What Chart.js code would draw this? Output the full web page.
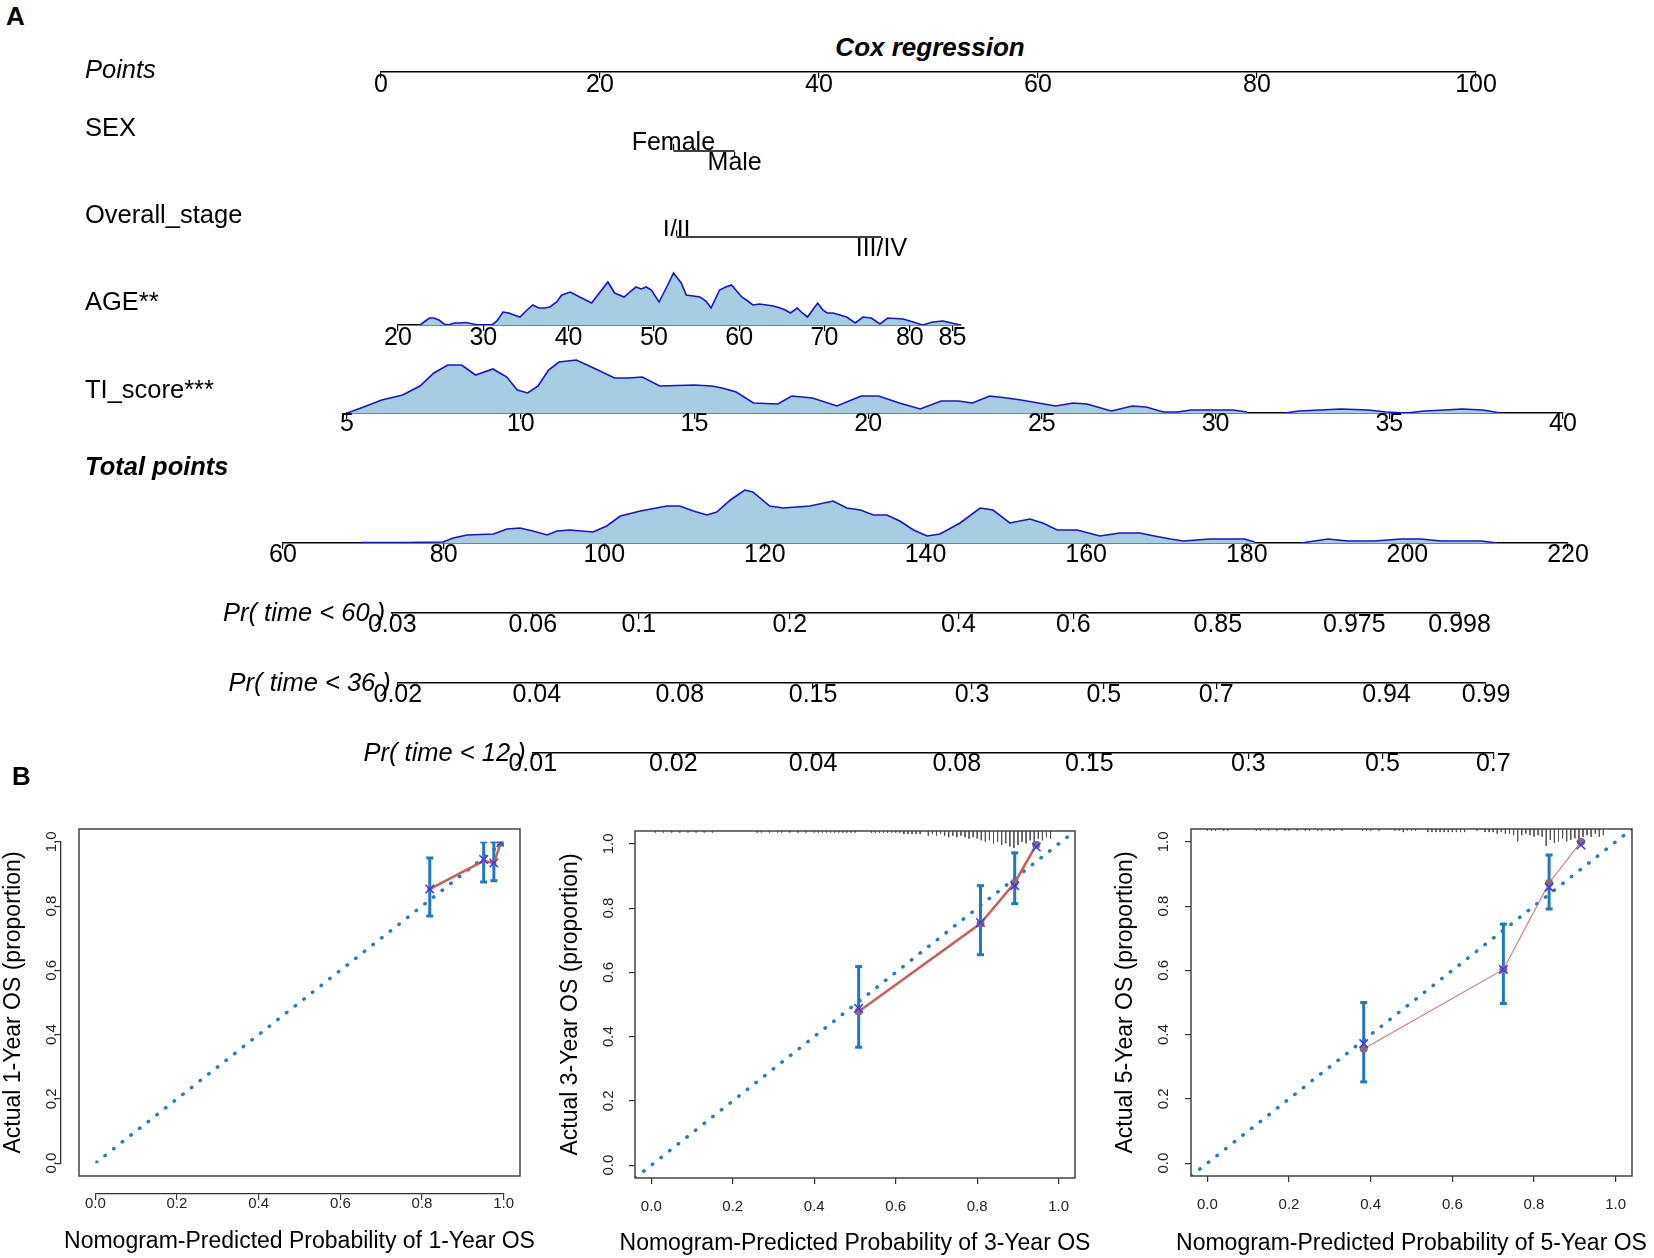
<!DOCTYPE html>
<html>
<head>
<meta charset="utf-8">
<title>Nomogram and calibration curves</title>
<script src="https://cdn.jsdelivr.net/npm/chart.js@4.4.1/dist/chart.umd.min.js"></script>
<style>
  html, body { margin: 0; padding: 0; background: #fff; }
  #page { position: relative; width: 1654px; height: 1258px; overflow: hidden;
          font-family: "Liberation Sans", Arial, sans-serif; color: #000; }
  #page canvas { position: absolute; }
  .lbl { position: absolute; white-space: nowrap; line-height: 1; font-size: 25.5px;
         transform: translateY(-50%); }
</style>
</head>
<body>
<div id="page"></div>
<script>
// ---------- nomogram data ----------
const pointsTicks = [0, 20, 40, 60, 80, 100];
const sexLevels = ['Female', 'Male'];
const sexPoints = [26.7, 32.3];
const stageLevels = ['I/II', 'III/IV'];
const stagePoints = [27.0, 45.7];

const ageTicks = [20, 30, 40, 50, 60, 70, 80, 85];
const ageX = [22.6, 23.2, 23.7, 24.2, 24.8, 25.4, 25.9, 26.6, 27.2, 28.0,
              28.8, 29.4, 31.0, 31.6, 32.3, 33.0, 33.6, 34.3, 35.0, 35.8,
              36.5, 37.2, 37.8, 38.6, 39.2, 40.2, 41.3, 42.7, 43.6, 44.6,
              45.4, 46.5, 47.3, 47.9, 48.5, 49.1, 49.7, 50.6, 51.5, 52.3,
              53.2, 53.8, 54.6, 55.4, 56.1, 56.7, 57.7, 58.4, 59.1, 59.8,
              60.3, 61.0, 61.6, 62.4, 63.2, 64.0, 64.8, 65.4, 66.0, 66.8,
              67.4, 68.0, 68.6, 69.2, 69.8, 70.3, 71.0, 71.8, 72.6, 73.6,
              74.5, 75.5, 76.5, 77.4, 78.3, 79.2, 80.4, 81.5, 82.7, 83.9,
              84.9, 85.9];
const ageDensity = [0, 4, 7, 7, 5, 1, 0, 2, 2, 2.5,
                    1, 0, 0, 4, 13, 12, 10, 8, 14, 20,
                    17, 17, 18, 23, 30, 33, 28, 22, 32, 43,
                    32, 28, 34, 38, 36, 38, 35, 23, 38, 52,
                    42, 30, 29, 28, 24, 17, 35, 38, 40, 33,
                    28, 24, 20, 21, 20, 19, 17, 15, 12, 17,
                    12, 8, 15, 22, 15, 12, 12, 10, 8, 2,
                    8, 7, 1, 7, 6.5, 6, 3, 0, 3, 4,
                    2, 0];

const tiTicks = [5, 10, 15, 20, 25, 30, 35, 40];
const tiX = [5.0, 5.4, 6.0, 6.6, 7.1, 7.5, 7.9, 8.3, 8.7, 9.2,
             9.6, 9.9, 10.2, 10.5, 10.8, 11.1, 11.6, 12.1, 12.7, 13.1,
             13.5, 14.0, 14.5, 15.0, 15.5, 15.8, 16.2, 16.7, 17.4, 17.8,
             18.4, 19.1, 19.8, 20.3, 20.9, 21.5, 22.1, 22.6, 23.0, 23.5,
             24.0, 24.4, 24.9, 25.4, 25.9, 26.3, 27.0, 27.6, 28.0, 28.5,
             28.9, 29.3, 29.8, 30.5, 30.9, 31.5, 32.0, 32.4, 33.0, 33.6,
             34.4, 34.9, 35.5, 36.0, 36.6, 37.1, 37.7, 38.2];
const tiDensity = [0, 5, 13, 18, 27, 40, 48, 48, 38, 44,
                   36, 23, 20, 27, 43, 51, 53, 45, 35, 35,
                   36, 27, 27.5, 28, 27, 25, 21, 10, 9, 17,
                   15, 7, 17, 17, 10, 4, 12, 12, 10, 17,
                   15, 13, 10, 7, 10, 9, 2, 7, 6, 1,
                   1, 3, 3, 3, 1, null, 0, 2, 3, 4,
                   3, 1, 0, 2, 3, 4, 3, 0];

const totalTicks = [60, 80, 100, 120, 140, 160, 180, 200, 220];
const totalX = [69.8, 75.0, 79.9, 81.2, 82.9, 86.2, 87.9, 89.5, 91.1, 92.9,
                94.1, 95.7, 98.6, 100.3, 102.0, 104.5, 107.8, 109.4, 111.1, 112.8,
                114.0, 115.7, 117.5, 118.5, 120.6, 122.3, 125.6, 128.5, 130.2, 131.9,
                133.5, 135.2, 136.8, 138.5, 140.2, 141.8, 144.3, 146.8, 148.4, 150.5,
                153.0, 154.6, 156.4, 158.9, 161.7, 164.2, 166.7, 168.5, 170.5, 172.1,
                175.4, 177.5, 179.7, 181.0, 184.0, 186.8, 187.6, 190.1, 192.6, 195.9,
                199.2, 201.7, 204.2, 206.2, 209.2, 211.2];
const totalDensity = [0.5, 0.5, 1, 5, 8, 9, 14, 15, 12, 8,
                      12, 13, 11, 17, 27, 32, 37, 37, 32, 28,
                      31, 43, 53, 51, 37, 35, 37, 42, 35, 33,
                      28, 28, 22, 13, 7, 9, 20, 35, 33, 20,
                      24, 20, 13, 13, 7, 10, 10, 7, 4, 2,
                      4, 4, 4, 1, null, 0, 1, 4, 2, 2,
                      4, 4, 2, 2, 2, 0];

// probability scales: label and the total points where it sits
const pr60Labels = ['0.03', '0.06', '0.1', '0.2', '0.4', '0.6', '0.85', '0.975', '0.998'];
const pr60Points = [73.6, 91.1, 104.3, 123.1, 144.1, 158.4, 176.4, 193.4, 206.5];
const pr36Labels = ['0.02', '0.04', '0.08', '0.15', '0.3', '0.5', '0.7', '0.94', '0.99'];
const pr36Points = [74.3, 91.6, 109.4, 126.0, 145.8, 162.2, 176.2, 197.4, 209.8];
const pr12Labels = ['0.01', '0.02', '0.04', '0.08', '0.15', '0.3', '0.5', '0.7'];
const pr12Points = [91.1, 108.6, 126.0, 143.9, 160.4, 180.2, 196.9, 210.7];

// ---------- calibration data ----------
const calTicks = [0, 0.2, 0.4, 0.6, 0.8, 1.0];
const pred1 = [0.819, 0.951, 0.976, 0.993];
const obs1 = [0.853, 0.941, 0.934, 0.997];
const lo1 = [0.769, 0.875, 0.879, 0.990];
const hi1 = [0.950, 1.000, 1.000, 1.000];
const km1 = [0.853, 0.945, 0.934, 0.997];
const rug1X = [0.327, 0.379, 0.441, 0.458, 0.494, 0.546, 0.591, 0.599, 0.722, 0.758,
               0.784, 0.810, 0.828, 0.860, 0.870, 0.880, 0.885, 0.890, 0.900, 0.905,
               0.910, 0.915, 0.920, 0.925, 0.930, 0.935, 0.940, 0.945, 0.950, 0.955,
               0.960, 0.965, 0.970, 0.975, 0.980, 0.985];
const rug1N = [1, 1, 1, 1, 1, 1, 2, 1, 1, 1,
               1, 1, 1, 2, 2, 2, 2, 2, 2, 3,
               2, 3, 3, 3, 4, 3, 4, 5, 4, 6,
               5, 7, 8, 9, 8, 9];

const pred2 = [0.509, 0.808, 0.892, 0.945];
const obs2 = [0.478, 0.752, 0.879, 0.997];
const lo2 = [0.367, 0.655, 0.814, 0.997];
const hi2 = [0.618, 0.870, 0.972, 0.997];
const km2 = [0.488, 0.755, 0.870, 0.990];
const rug2X = [0.01, 0.03, 0.05, 0.07, 0.09, 0.11, 0.13, 0.15,
               0.26, 0.27, 0.29, 0.31, 0.32, 0.34, 0.36, 0.38,
               0.40, 0.41, 0.42, 0.43, 0.44, 0.45, 0.46, 0.47, 0.48, 0.49, 0.50,
               0.54, 0.55, 0.56, 0.57, 0.58, 0.59, 0.60, 0.61,
               0.62, 0.63, 0.64, 0.65, 0.66, 0.68, 0.69, 0.70, 0.71, 0.72,
               0.73, 0.74, 0.75, 0.76, 0.77, 0.78, 0.79, 0.80,
               0.81, 0.82, 0.83, 0.84, 0.85, 0.86, 0.87, 0.88, 0.89, 0.90,
               0.91, 0.92, 0.93, 0.94, 0.95, 0.96, 0.97, 0.98];
const rug2N = [1, 1, 1, 1, 1, 1, 1, 1,
               1, 1, 1, 1, 1, 1, 1, 1,
               1, 1, 1, 1, 1, 1, 1, 1, 1, 1, 1,
               1, 1, 1, 1, 1, 1, 1, 1,
               2, 2, 2, 2, 2, 3, 2, 3, 2, 3,
               4, 3, 4, 3, 4, 5, 4, 5,
               6, 7, 6, 8, 7, 9, 8, 10, 11, 9,
               7, 8, 6, 7, 5, 6, 4, 5];

const pred3 = [0.383, 0.725, 0.837, 0.915];
const obs3 = [0.356, 0.603, 0.872, 1.000];
const lo3 = [0.253, 0.497, 0.791, 1.000];
const hi3 = [0.500, 0.744, 0.959, 1.000];
const km3 = [0.372, 0.603, 0.859, 0.990];
const rug3X = [0.00, 0.01, 0.02, 0.04, 0.05, 0.12, 0.13, 0.15,
               0.17, 0.19, 0.20, 0.22, 0.24, 0.25, 0.27, 0.28, 0.30, 0.31, 0.33,
               0.38, 0.39, 0.40, 0.42, 0.46, 0.47, 0.48, 0.49, 0.50, 0.51,
               0.54, 0.55, 0.56, 0.57, 0.58, 0.59, 0.60, 0.61, 0.62, 0.63,
               0.66, 0.68, 0.69, 0.70, 0.71, 0.72, 0.73, 0.74, 0.75, 0.76,
               0.77, 0.78, 0.79, 0.80, 0.81, 0.82, 0.83, 0.84, 0.85,
               0.86, 0.87, 0.88, 0.89, 0.90, 0.91, 0.92, 0.93, 0.94, 0.95, 0.96, 0.97];
const rug3N = [1, 1, 1, 1, 1, 1, 1, 1,
               1, 1, 1, 1, 1, 1, 1, 1, 1, 1, 1,
               1, 1, 1, 1, 1, 1, 2, 1, 1, 1,
               2, 2, 2, 2, 2, 2, 2, 2, 2, 2,
               1, 2, 2, 2, 3, 2, 3, 3, 4, 8,
               4, 3, 4, 5, 4, 5, 11, 7, 9,
               8, 6, 8, 7, 6, 8, 5, 4, 5, 3, 5, 4];

// ---------- layout ----------
const PAGE_W = 1654;
const page = document.getElementById('page');
const PTS_PX = [381, 1476];      // pixel span of the Points axis
const pointsRange = [0, 100];
const TOTAL_PX = [283, 1568];
const totalRange = [60, 220];
const TICK_LEN = 6;
const TICK_PX = 25;
const LINE_H = TICK_PX * 1.2;
const AX_H = 36;
const AX_LIM = [-0.04, 1.04];
const RUG_UNIT = 0.0048;

Chart.defaults.font.family = '"Liberation Sans", Arial, sans-serif';
Chart.defaults.color = '#000';
Chart.defaults.animation = false;
Chart.defaults.responsive = false;
Chart.defaults.events = [];
Chart.defaults.plugins.legend.display = false;
Chart.defaults.plugins.tooltip.enabled = false;

function tpPx(v) {
  return TOTAL_PX[0] + (v - totalRange[0]) * (TOTAL_PX[1] - TOTAL_PX[0]) / (totalRange[1] - totalRange[0]);
}

function makeCanvas(left, top, w, h) {
  const c = document.createElement('canvas');
  c.width = w;
  c.height = h;
  c.style.left = left + 'px';
  c.style.top = top + 'px';
  page.appendChild(c);
  return c.getContext('2d');
}

function label(str, x, y, style, align) {
  const d = document.createElement('div');
  d.className = 'lbl';
  d.textContent = str;
  d.style.top = y + 'px';
  if (align === 'right') {
    d.style.right = (PAGE_W - x) + 'px';
  } else {
    d.style.left = x + 'px';
  }
  if (align === 'center') d.style.transform = 'translate(-50%, -50%)';
  Object.assign(d.style, style || {});
  page.appendChild(d);
}

function densitySet(xs, ys) {
  return {
    data: xs.map((x, i) => ({ x: x, y: ys[i] })),
    borderColor: '#1414d2', borderWidth: 1.6, backgroundColor: '#a6cde2',
    fill: 'origin', pointRadius: 0, tension: 0, spanGaps: false
  };
}

// one nomogram axis; the chart area is pinned to the axis span
function nomoRow(o) {
  const areaH = o.areaH || 2;
  const ctx = makeCanvas(0, o.axisY - areaH, PAGE_W, areaH + AX_H);
  return new Chart(ctx, {
    type: 'line',
    data: { datasets: o.datasets || [] },
    options: {
      layout: { padding: { left: o.px[0], right: PAGE_W - o.px[1], top: 0, bottom: 0 } },
      scales: {
        x: {
          type: 'linear', position: 'bottom', min: o.range[0], max: o.range[1],
          afterFit: s => { s.height = AX_H; },
          afterBuildTicks: s => { s.ticks = o.ticks.map(v => ({ value: v })); },
          ticks: {
            autoSkip: false, minRotation: 0, maxRotation: 0, color: '#000',
            font: { size: TICK_PX }, padding: o.gap - TICK_LEN - LINE_H / 2,
            callback: (v, i) => o.labels[i]
          },
          grid: { drawOnChartArea: false, tickLength: TICK_LEN, color: '#000', lineWidth: 1.2 },
          border: { display: true, color: '#000', width: 1.5 }
        },
        y: { display: false, min: 0, max: areaH }
      }
    }
  });
}

// two-level factor: first level labelled above, second below
function catRow(o) {
  const ctx = makeCanvas(0, o.axisY - AX_H - 1, PAGE_W, AX_H * 2 + 2);
  const side = (pos, idx, gap) => ({
    type: 'linear', position: pos, min: pointsRange[0], max: pointsRange[1],
    afterFit: s => { s.height = AX_H; },
    afterBuildTicks: s => { s.ticks = [{ value: o.points[idx] }]; },
    ticks: {
      autoSkip: false, minRotation: 0, maxRotation: 0, color: '#000',
      font: { size: TICK_PX }, padding: gap - TICK_LEN - LINE_H / 2 - 1,
      callback: () => o.labels[idx]
    },
    grid: { drawOnChartArea: false, tickLength: TICK_LEN, color: '#000', lineWidth: 1.2 },
    border: { display: false }
  });
  return new Chart(ctx, {
    type: 'line',
    data: {
      datasets: [{
        xAxisID: 'x', yAxisID: 'y',
        data: o.points.map(p => ({ x: p, y: 0 })),
        borderColor: '#000', borderWidth: 1.5, pointRadius: 0
      }]
    },
    options: {
      layout: { padding: { left: PTS_PX[0], right: PAGE_W - PTS_PX[1], top: 0, bottom: 0 } },
      scales: {
        xt: side('top', 0, o.gapTop),
        x: side('bottom', 1, o.gapBottom),
        y: { display: false, min: -1, max: 1 }
      }
    }
  });
}

// ---------- part A ----------
nomoRow({ axisY: 72, px: PTS_PX, range: pointsRange, ticks: pointsTicks,
          labels: pointsTicks.map(String), gap: 13 });
catRow({ axisY: 151, points: sexPoints, labels: sexLevels, gapTop: 8, gapBottom: 12 });
catRow({ axisY: 237, points: stagePoints, labels: stageLevels, gapTop: 6, gapBottom: 12 });
nomoRow({ axisY: 325, areaH: 55, px: [398, 961], range: [20, 86], ticks: ageTicks,
          labels: ageTicks.map(String), gap: 13.5, datasets: [densitySet(ageX, ageDensity)] });
nomoRow({ axisY: 413, areaH: 55, px: [347, 1563], range: [5, 40], ticks: tiTicks,
          labels: tiTicks.map(String), gap: 11, datasets: [densitySet(tiX, tiDensity)] });
nomoRow({ axisY: 543, areaH: 55, px: TOTAL_PX, range: totalRange, ticks: totalTicks,
          labels: totalTicks.map(String), gap: 12, datasets: [densitySet(totalX, totalDensity)] });

const prRows = [
  { y: 613, pts: pr60Points, labels: pr60Labels, gap: 12, name: 'Pr( time < 60 )' },
  { y: 683, pts: pr36Points, labels: pr36Labels, gap: 11.7, name: 'Pr( time < 36 )' },
  { y: 753, pts: pr12Points, labels: pr12Labels, gap: 11.3, name: 'Pr( time < 12 )' }
];
prRows.forEach(r => {
  const first = r.pts[0], last = r.pts[r.pts.length - 1];
  nomoRow({ axisY: r.y, px: [tpPx(first), tpPx(last)], range: [first, last],
            ticks: r.pts, labels: r.labels, gap: r.gap });
  label(r.name, tpPx(first) - 7, r.y, { fontStyle: 'italic' }, 'right');
});

label('A', 6, 16, { fontWeight: 'bold', fontSize: '26px' });
label('Cox regression', 930, 47, { fontWeight: 'bold', fontStyle: 'italic', fontSize: '26px' }, 'center');
label('Points', 85, 70, { fontStyle: 'italic' });
label('SEX', 85, 128);
label('Overall_stage', 85, 215);
label('AGE**', 85, 302);
label('TI_score***', 85, 390);
label('Total points', 85, 467, { fontWeight: 'bold', fontStyle: 'italic' });

// ---------- part B ----------
const boxPlugin = {
  id: 'box',
  afterDatasetsDraw(chart) {
    const a = chart.chartArea, c = chart.ctx;
    c.save();
    c.strokeStyle = '#444';
    c.lineWidth = 1.5;
    c.strokeRect(a.left, a.top, a.right - a.left, a.bottom - a.top);
    c.restore();
  }
};
// first panel: axes drawn apart from the box, only over 0..1
const detachPlugin = {
  id: 'detach',
  afterLayout(chart) {
    const x = chart.scales.x, y = chart.scales.y;
    x.top += 18; x.bottom += 18;
    x.left = x.getPixelForValue(0); x.right = x.getPixelForValue(1);
    y.left -= 18; y.right -= 18;
    y.top = y.getPixelForValue(1); y.bottom = y.getPixelForValue(0);
  }
};

function calPlot(o) {
  const ctx = makeCanvas(o.left, 790, o.width, 468);
  const blue = '#1f78c1';
  const rugData = [], ciData = [], capData = [];
  o.rugX.forEach((x, i) => {
    rugData.push({ x: x, y: AX_LIM[1] }, { x: x, y: AX_LIM[1] - o.rugN[i] * RUG_UNIT }, { x: x, y: null });
  });
  o.pred.forEach((x, i) => {
    ciData.push({ x: x, y: o.lo[i] }, { x: x, y: o.hi[i] }, { x: x, y: null });
    capData.push({ x: x, y: o.lo[i] }, { x: x, y: o.hi[i] });
  });
  const det = !!o.detached;
  const chart = new Chart(ctx, {
    type: 'line',
    data: {
      datasets: [
        { type: 'scatter', order: 1, data: o.pred.map((x, i) => ({ x: x, y: o.km[i] })),
          pointStyle: 'crossRot', pointRadius: 6, borderColor: '#3a3af2', borderWidth: 1.5 },
        { order: 2, data: o.pred.map((x, i) => ({ x: x, y: o.obs[i] })),
          borderColor: o.lineColor, borderWidth: o.lineW, pointRadius: o.ptR,
          pointBackgroundColor: '#8a6a7a', pointBorderWidth: 0 },
        { type: 'scatter', order: 3, data: capData, pointStyle: 'line', pointRadius: 3.5,
          borderColor: blue, borderWidth: 3 },
        { order: 4, data: ciData, borderColor: blue, borderWidth: 3, pointRadius: 0, spanGaps: false },
        { order: 5, data: [{ x: AX_LIM[0], y: AX_LIM[0] }, { x: AX_LIM[1], y: AX_LIM[1] }],
          borderColor: '#2a7dbd', borderWidth: 3.5, borderDash: [0.5, 10.5],
          borderCapStyle: 'round', pointRadius: 0 },
        { order: 6, data: rugData, borderColor: '#555', borderWidth: 1, pointRadius: 0, spanGaps: false }
      ]
    },
    options: {
      layout: { padding: { left: 0, right: o.padRight, top: o.padTop, bottom: 0 } },
      scales: {
        x: {
          type: 'linear', min: AX_LIM[0], max: AX_LIM[1],
          afterFit: s => { s.height = o.xH; },
          afterBuildTicks: s => { s.ticks = calTicks.map(v => ({ value: v })); },
          ticks: { autoSkip: false, minRotation: 0, maxRotation: 0, padding: o.xPad,
                   font: { size: 15 }, color: '#222', callback: v => v.toFixed(1) },
          grid: { drawOnChartArea: false, tickLength: 6, color: '#333', lineWidth: 1.2 },
          border: { display: det, color: '#333', width: 1.3 }
        },
        y: {
          type: 'linear', min: AX_LIM[0], max: AX_LIM[1],
          afterFit: s => { s.width = o.yW; },
          afterBuildTicks: s => { s.ticks = calTicks.map(v => ({ value: v })); },
          ticks: { autoSkip: false, minRotation: 90, maxRotation: 90, crossAlign: 'center',
                   padding: o.yPad, font: { size: 15 }, color: '#222', callback: v => v.toFixed(1) },
          grid: { drawOnChartArea: false, tickLength: 6, color: '#333', lineWidth: 1.2 },
          border: { display: det, color: '#333', width: 1.3 },
          title: { display: true, text: o.yTitle, font: { size: 23 }, color: '#000',
                   padding: { top: o.yTitlePad, bottom: 0 } }
        }
      }
    },
    plugins: det ? [boxPlugin, detachPlugin] : [boxPlugin]
  });
  // x title as page text so it can run wider than the plot box, as in the source
  const a = chart.chartArea;
  label(o.xTitle, o.left + (a.left + a.right) / 2, o.xTitleY, { fontSize: '23px' }, 'center');
  return chart;
}

calPlot({ left: 0, width: 540, padRight: 20, padTop: 39, xH: 82, yW: 79, detached: true,
          xPad: -5, yPad: -7.4, yTitlePad: 18.2, xTitleY: 1240,
          pred: pred1, obs: obs1, lo: lo1, hi: hi1, km: km1, rugX: rug1X, rugN: rug1N,
          lineColor: '#cd5c5c', lineW: 2.5, ptR: 2.5,
          xTitle: 'Nomogram-Predicted Probability of 1-Year OS', yTitle: 'Actual 1-Year OS (proportion)' });
calPlot({ left: 555, width: 540, padRight: 20, padTop: 41, xH: 80, yW: 80,
          xPad: 14, yPad: 9.6, yTitlePad: 2.2, xTitleY: 1241.5,
          pred: pred2, obs: obs2, lo: lo2, hi: hi2, km: km2, rugX: rug2X, rugN: rug2N,
          lineColor: '#cd5c5c', lineW: 2.5, ptR: 4,
          xTitle: 'Nomogram-Predicted Probability of 3-Year OS', yTitle: 'Actual 3-Year OS (proportion)' });
calPlot({ left: 1094, width: 560, padRight: 22, padTop: 39, xH: 82, yW: 97,
          xPad: 14, yPad: 10.6, yTitlePad: 18.2, xTitleY: 1241.5,
          pred: pred3, obs: obs3, lo: lo3, hi: hi3, km: km3, rugX: rug3X, rugN: rug3N,
          lineColor: '#d47a7a', lineW: 1.2, ptR: 4,
          xTitle: 'Nomogram-Predicted Probability of 5-Year OS', yTitle: 'Actual 5-Year OS (proportion)' });

label('B', 12, 776, { fontWeight: 'bold', fontSize: '26px' });
</script>
</body>
</html>
